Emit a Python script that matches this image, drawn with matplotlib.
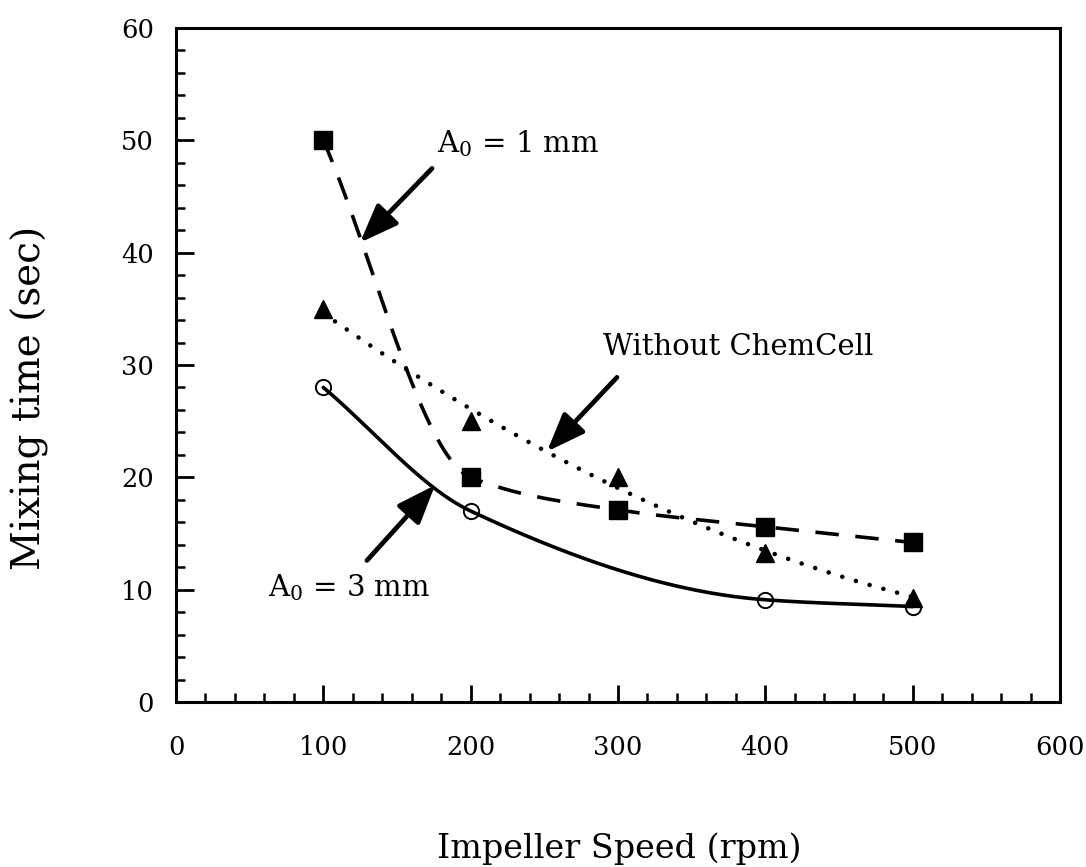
#!/usr/bin/env python3
"""Mixing time against impeller speed, with and without the ChemCell."""

import matplotlib
matplotlib.use("Agg")
import matplotlib.pyplot as plt
import numpy as np

square_speed = [100, 200, 300, 400, 500]
square_time = [50.0, 20.0, 17.1, 15.6, 14.2]      # A0 = 1 mm

triangle_speed = [100, 200, 300, 400, 500]
triangle_time = [35.0, 25.0, 20.0, 13.3, 9.3]     # without ChemCell

circle_speed = [100, 200, 400, 500]
circle_time = [28.0, 17.0, 9.1, 8.5]              # A0 = 3 mm

x_ticks = [0, 100, 200, 300, 400, 500, 600]
y_ticks = [0, 10, 20, 30, 40, 50, 60]


def monotone_curve(xs, ys, num=300):
    """Monotone cubic Hermite curve through the points (PCHIP-style slopes)."""
    xs = np.asarray(xs, float)
    ys = np.asarray(ys, float)
    h = np.diff(xs)
    delta = np.diff(ys) / h
    d = np.zeros_like(ys)
    d[0], d[-1] = delta[0], delta[-1]
    for k in range(1, len(xs) - 1):
        if delta[k - 1] * delta[k] > 0:
            w1 = 2 * h[k] + h[k - 1]
            w2 = h[k] + 2 * h[k - 1]
            d[k] = (w1 + w2) / (w1 / delta[k - 1] + w2 / delta[k])
    xx = np.linspace(xs[0], xs[-1], num)
    i = np.clip(np.searchsorted(xs, xx) - 1, 0, len(xs) - 2)
    t = (xx - xs[i]) / h[i]
    yy = ((2 * t**3 - 3 * t**2 + 1) * ys[i] + (t**3 - 2 * t**2 + t) * h[i] * d[i]
          + (-2 * t**3 + 3 * t**2) * ys[i + 1] + (t**3 - t**2) * h[i] * d[i + 1])
    return xx, yy


def main() -> None:
    plt.rcParams["font.family"] = ["DejaVu Serif"]
    plt.rcParams["mathtext.fontset"] = "dejavuserif"

    fig = plt.figure(figsize=(10.86, 8.67), dpi=100)
    ax = fig.add_axes([176 / 1086, 1 - 702 / 867, 884 / 1086, 674 / 867])

    # fitted / smoothed curves
    sx, sy = monotone_curve(square_speed, square_time)
    ax.plot(sx, sy, color="black", lw=2.6, linestyle=(0, (6.5, 4.6)))

    coef = np.polyfit(triangle_speed, triangle_time, 2)
    tx = np.linspace(triangle_speed[0], triangle_speed[-1], 300)
    ax.plot(tx, np.polyval(coef, tx), color="black", lw=3.3,
            linestyle=(0, (0.01, 3.1)), dash_capstyle="round")

    cx, cy = monotone_curve(circle_speed, circle_time)
    ax.plot(cx, cy, color="black", lw=2.6, solid_capstyle="round")

    # markers
    ax.plot(square_speed, square_time, "s", color="black", ms=12.5, ls="none")
    ax.plot(triangle_speed, triangle_time, "^", color="black", ms=13, ls="none")
    ax.plot(circle_speed, circle_time, "o", mfc="none", mec="black", mew=1.4,
            ms=11, ls="none")

    ax.set_xlim(0, 600)
    ax.set_ylim(0, 60)
    ax.set_xticks(x_ticks)
    ax.set_yticks(y_ticks)
    ax.set_xticks(np.arange(0, 601, 20), minor=True)
    ax.set_yticks(np.arange(0, 61, 2), minor=True)
    ax.tick_params(which="both", direction="in", top=False, right=False,
                   colors="black")
    ax.tick_params(axis="x", which="major", length=12.5, width=2.0, pad=24,
                   labelsize=18.5)
    ax.tick_params(axis="y", which="major", length=13, width=2.0, pad=16,
                   labelsize=18.5)
    ax.tick_params(which="minor", length=6.5, width=1.8)
    for spine in ax.spines.values():
        spine.set_linewidth(2.2)

    fig.text(619 / 1086, 1 - 849 / 867, "Impeller Speed (rpm)", fontsize=24,
             ha="center", va="center")
    fig.text(30 / 1086, 1 - 398 / 867, "Mixing time (sec)", fontsize=28,
             ha="center", va="center", rotation=90)

    arrow = dict(arrowstyle="-|>,head_length=1.3,head_width=0.5",
                 mutation_scale=18, lw=3.4, color="black", shrinkA=0, shrinkB=0)

    ax.text(177, 48.9, r"$\mathrm{A_0}$ = 1 mm", fontsize=21, va="baseline")
    ax.annotate("", xy=(124.9, 40.9), xytext=(173.8, 47.5), arrowprops=arrow)

    ax.text(290, 30.9, "Without ChemCell", fontsize=21, va="baseline")
    ax.annotate("", xy=(251.8, 22.3), xytext=(299.3, 28.9), arrowprops=arrow)

    ax.text(62.4, 9.4, r"$\mathrm{A_0}$ = 3 mm", fontsize=21, va="baseline")
    ax.annotate("", xy=(175.8, 19.3), xytext=(129.6, 12.6), arrowprops=arrow)

    fig.savefig("out.png", dpi=100)
    plt.close(fig)


if __name__ == "__main__":
    main()
